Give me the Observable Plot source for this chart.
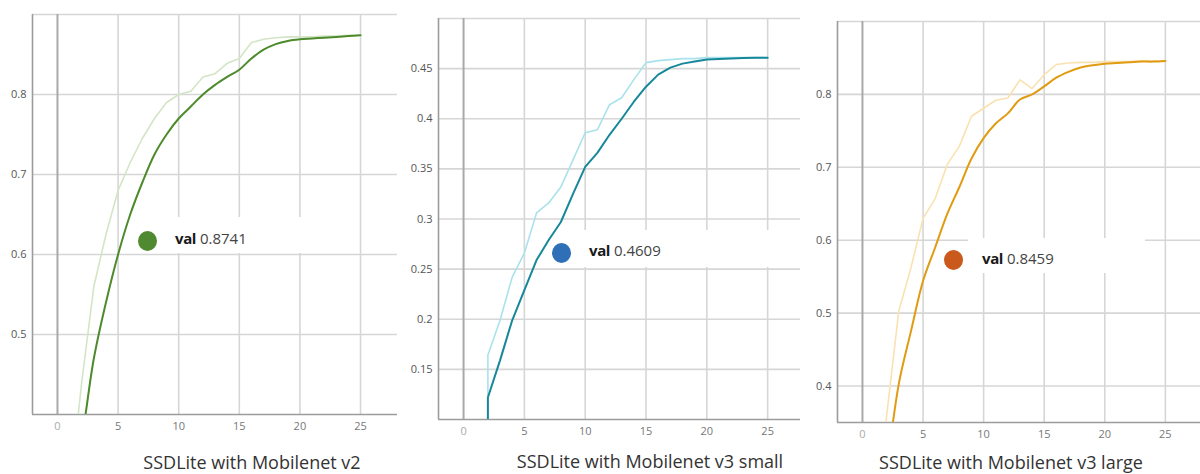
<!DOCTYPE html>
<html>
<head>
<meta charset="utf-8">
<script src="https://cdn.jsdelivr.net/npm/d3@7"></script>
<script src="https://cdn.jsdelivr.net/npm/@observablehq/plot@0.6"></script>
<style>
  html, body { margin: 0; padding: 0; background: #fff; }
  #wrap { position: relative; width: 1200px; height: 474px; overflow: hidden; font-family: "Open Sans", "Noto Sans", sans-serif; }
  .panel { position: absolute; top: 0; }
  .legend { position: absolute; background: #fff; }
  .dot { position: absolute; border-radius: 50%; }
  .ltext { position: absolute; font-size: 15px; line-height: 16px; color: #444; white-space: nowrap; }
  .ltext b { color: #1a1a1a; font-weight: 700; letter-spacing: -0.4px; }
  .caption { position: absolute; font-size: 18px; line-height: 20px; color: #333; white-space: nowrap; text-align: center; width: 400px; }
</style>
</head>
<body>
<div id="wrap"></div>
<script>
// ---------------- data ----------------
const titles = ["SSDLite with Mobilenet v2", "SSDLite with Mobilenet v3 small", "SSDLite with Mobilenet v3 large"];
const finalValues = ["0.8741", "0.4609", "0.8459"];

// Mobilenet v2
const epochsV2 = [1,2,3,4,5,6,7,8,9,10,11,12,13,14,15,16,17,18,19,20,21,22,23,24,25];
const rawV2 = [0.30,0.44,0.56,0.625,0.68,0.715,0.745,0.77,0.79,0.80,0.804,0.822,0.826,0.839,0.845,0.865,0.869,0.871,0.872,0.872,0.872,0.873,0.873,0.874,0.8741];
const smoothV2 = [0.30,0.37,0.47,0.54,0.60,0.65,0.69,0.725,0.75,0.77,0.785,0.80,0.812,0.822,0.831,0.845,0.856,0.863,0.867,0.869,0.870,0.871,0.872,0.873,0.8741];

// Mobilenet v3 small
const epochsV3s = [2,2,3,4,5,6,7,8,9,10,11,12,13,14,15,16,17,18,19,20,21,22,23,24,25];
const rawV3s = [0.124,0.164,0.199,0.242,0.266,0.306,0.316,0.332,0.359,0.386,0.389,0.414,0.421,0.439,0.456,0.458,0.459,0.460,0.460,0.461,0.461,0.461,0.461,0.461,0.4609];
const smoothV3s = [0.08,0.122,0.159,0.199,0.229,0.259,0.279,0.297,0.325,0.352,0.366,0.384,0.400,0.417,0.432,0.444,0.451,0.455,0.457,0.459,0.4595,0.460,0.4605,0.4608,0.4609];

// Mobilenet v3 large
const epochsV3l = [1,2,3,4,5,6,7,8,9,10,11,12,13,14,15,16,17,18,19,20,21,22,23,24,25];
const rawV3l = [0.20,0.36,0.503,0.562,0.63,0.657,0.704,0.729,0.77,0.781,0.792,0.795,0.82,0.808,0.827,0.841,0.843,0.844,0.844,0.845,0.845,0.845,0.846,0.846,0.846];
const smoothV3l = [0.20,0.29,0.403,0.475,0.544,0.59,0.636,0.673,0.712,0.740,0.760,0.774,0.793,0.800,0.811,0.823,0.831,0.837,0.840,0.842,0.843,0.844,0.845,0.845,0.8459];

// axis ticks
const xTicks = [0,5,10,15,20,25];
const yTicksV2 = [0.5,0.6,0.7,0.8];
const yTicksV3s = [0.15,0.2,0.25,0.3,0.35,0.4,0.45];
const yTicksV3l = [0.4,0.5,0.6,0.7,0.8];
const yDomainV2 = [0.4, 0.9];
const yDomainV3s = [0.1, 0.5];
const yDomainV3l = [0.35, 0.9];

// ---------------- layout / style ----------------
const panels = [
  { left: 0, epochs: epochsV2, raw: rawV2, smooth: smoothV2, yTicks: yTicksV2, yDomain: yDomainV2,
    xDomain: [-2.06, 28.05], m: {l: 32, t: 14, r: 3, b: 26}, h: 440, curve: "catmull-rom",
    light: "#d4e5c6", dark: "#4d8a2b", dotColor: "#4f8a31",
    box: {x: 160, y: 217, w: 178, h: 36}, dot: {x: 147, y: 241, r: 9.5}, text: {x: 175, y: 242},
    cap: {cx: 252, base: 467} },
  { left: 400, epochs: epochsV3s, raw: rawV3s, smooth: smoothV3s, yTicks: yTicksV3s, yDomain: yDomainV3s,
    xDomain: [-2.06, 27.7], m: {l: 38, t: 18, r: 0, b: 21}, h: 440, curve: "linear",
    light: "#a9e2eb", dark: "#17879a", dotColor: "#2e6fb7",
    box: {x: 180, y: 230, w: 220, h: 37}, dot: {x: 161, y: 253, r: 9.5}, text: {x: 189, y: 254},
    cap: {cx: 250, base: 466} },
  { left: 800, epochs: epochsV3l, raw: rawV3l, smooth: smoothV3l, yTicks: yTicksV3l, yDomain: yDomainV3l,
    xDomain: [-2.06, 27.9], m: {l: 37, t: 21, r: 0, b: 18}, h: 440, curve: "catmull-rom",
    light: "#f9e2b0", dark: "#e09b12", dotColor: "#c95a1c",
    box: {x: 168, y: 238, w: 177, h: 35}, dot: {x: 153, y: 260, r: 9.5}, text: {x: 182, y: 262},
    cap: {cx: 211, base: 467} }
];

const wrap = document.getElementById("wrap");
const fmt = d => String(d);

panels.forEach((p, i) => {
  const rawData = p.epochs.map((e, k) => ({epoch: e, value: p.raw[k]}));
  const smoothData = p.epochs.map((e, k) => ({epoch: e, value: p.smooth[k]}));
  const gridStyle = {stroke: "#d6d6d6", strokeOpacity: 1, strokeWidth: 1.6};
  const chart = Plot.plot({
    width: 400,
    height: p.h,
    marginLeft: p.m.l, marginTop: p.m.t, marginRight: p.m.r, marginBottom: p.m.b,
    x: {domain: p.xDomain, label: null},
    y: {domain: p.yDomain, label: null},
    style: {fontFamily: "'Open Sans', 'Noto Sans', sans-serif", fontSize: "11px", background: "transparent", overflow: "visible"},
    marks: [
      Plot.gridX(xTicks.slice(1), gridStyle),
      Plot.gridY([...p.yTicks, p.yDomain[1]], gridStyle),
      Plot.ruleX([0], {stroke: "#a9a9a9", strokeWidth: 2}),
      Plot.ruleX([p.xDomain[0]], {stroke: "#9c9c9c", strokeWidth: 1.6}),
      Plot.ruleY([p.yDomain[0]], {stroke: "#9c9c9c", strokeWidth: 1.6}),
      Plot.line(rawData, {x: "epoch", y: "value", stroke: p.light, strokeWidth: 1.6, clip: true}),
      Plot.line(smoothData, {x: "epoch", y: "value", stroke: p.dark, strokeWidth: 2, clip: true, curve: p.curve}),
      Plot.axisY(p.yTicks, {tickSize: 0, tickPadding: 6, fill: "#555", label: null, tickFormat: fmt}),
      Plot.axisX(xTicks.slice(1), {tickSize: 0, tickPadding: 8, fill: "#777", label: null, tickFormat: fmt}),
      Plot.axisX([xTicks[0]], {tickSize: 0, tickPadding: 8, fill: "#aaa", label: null, tickFormat: fmt})
    ]
  });
  const holder = document.createElement("div");
  holder.className = "panel";
  holder.style.left = p.left + "px";
  holder.style.width = "400px";
  holder.style.height = "474px";
  holder.appendChild(chart);

  // legend (tooltip-like value box)
  const box = document.createElement("div");
  box.className = "legend";
  Object.assign(box.style, {left: p.box.x + "px", top: p.box.y + "px", width: p.box.w + "px", height: p.box.h + "px"});
  holder.appendChild(box);
  const dot = document.createElement("div");
  dot.className = "dot";
  Object.assign(dot.style, {left: (p.dot.x - p.dot.r) + "px", top: (p.dot.y - p.dot.r - 0.5) + "px",
    width: (2 * p.dot.r) + "px", height: (2 * p.dot.r + 1) + "px", background: p.dotColor});
  holder.appendChild(dot);
  const txt = document.createElement("div");
  txt.className = "ltext";
  txt.style.left = p.text.x + "px";
  txt.style.top = (p.text.y - 12) + "px";
  txt.innerHTML = "<b>val</b> " + finalValues[i];
  holder.appendChild(txt);

  // caption
  const cap = document.createElement("div");
  cap.className = "caption";
  cap.style.left = (p.cap.cx - 200) + "px";
  cap.style.top = (p.cap.base - 15) + "px";
  cap.textContent = titles[i];
  holder.appendChild(cap);

  wrap.appendChild(holder);
});
</script>
</body>
</html>
